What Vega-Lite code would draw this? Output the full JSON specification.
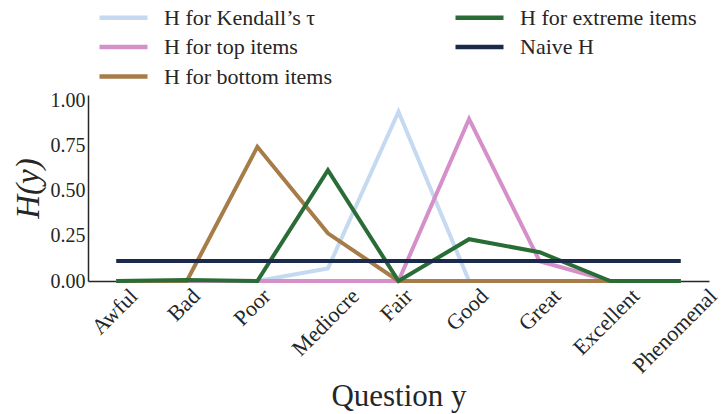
{
  "$schema": "https://vega.github.io/schema/vega-lite/v6.json",
  "width": 621,
  "height": 186,
  "autosize": {"type": "none"},
  "padding": {"left": 88, "top": 95, "right": 13, "bottom": 133},
  "background": "white",
  "config": {
    "view": {"stroke": null},
    "font": "Liberation Serif",
    "axis": {"labelFont": "Liberation Serif", "titleFont": "Liberation Serif"},
    "legend": {"labelFont": "Liberation Serif", "titleFont": "Liberation Serif"}
  },
  "data": {
    "values": [
      {"q": "Awful", "s": "H for Kendall’s τ", "h": 0},
      {"q": "Bad", "s": "H for Kendall’s τ", "h": 0},
      {"q": "Poor", "s": "H for Kendall’s τ", "h": 0},
      {"q": "Mediocre", "s": "H for Kendall’s τ", "h": 0.07},
      {"q": "Fair", "s": "H for Kendall’s τ", "h": 0.94},
      {"q": "Good", "s": "H for Kendall’s τ", "h": 0},
      {"q": "Great", "s": "H for Kendall’s τ", "h": 0},
      {"q": "Excellent", "s": "H for Kendall’s τ", "h": 0},
      {"q": "Phenomenal", "s": "H for Kendall’s τ", "h": 0},
      {"q": "Awful", "s": "H for top items", "h": 0},
      {"q": "Bad", "s": "H for top items", "h": 0},
      {"q": "Poor", "s": "H for top items", "h": 0},
      {"q": "Mediocre", "s": "H for top items", "h": 0},
      {"q": "Fair", "s": "H for top items", "h": 0},
      {"q": "Good", "s": "H for top items", "h": 0.9},
      {"q": "Great", "s": "H for top items", "h": 0.11},
      {"q": "Excellent", "s": "H for top items", "h": 0},
      {"q": "Phenomenal", "s": "H for top items", "h": 0},
      {"q": "Awful", "s": "H for bottom items", "h": 0},
      {"q": "Bad", "s": "H for bottom items", "h": 0},
      {"q": "Poor", "s": "H for bottom items", "h": 0.745},
      {"q": "Mediocre", "s": "H for bottom items", "h": 0.265},
      {"q": "Fair", "s": "H for bottom items", "h": 0},
      {"q": "Good", "s": "H for bottom items", "h": 0},
      {"q": "Great", "s": "H for bottom items", "h": 0},
      {"q": "Excellent", "s": "H for bottom items", "h": 0},
      {"q": "Phenomenal", "s": "H for bottom items", "h": 0},
      {"q": "Awful", "s": "H for extreme items", "h": 0},
      {"q": "Bad", "s": "H for extreme items", "h": 0.005},
      {"q": "Poor", "s": "H for extreme items", "h": 0},
      {"q": "Mediocre", "s": "H for extreme items", "h": 0.615},
      {"q": "Fair", "s": "H for extreme items", "h": 0},
      {"q": "Good", "s": "H for extreme items", "h": 0.232},
      {"q": "Great", "s": "H for extreme items", "h": 0.16},
      {"q": "Excellent", "s": "H for extreme items", "h": 0},
      {"q": "Phenomenal", "s": "H for extreme items", "h": 0},
      {"q": "Awful", "s": "Naive H", "h": 0.111},
      {"q": "Bad", "s": "Naive H", "h": 0.111},
      {"q": "Poor", "s": "Naive H", "h": 0.111},
      {"q": "Mediocre", "s": "Naive H", "h": 0.111},
      {"q": "Fair", "s": "Naive H", "h": 0.111},
      {"q": "Good", "s": "Naive H", "h": 0.111},
      {"q": "Great", "s": "Naive H", "h": 0.111},
      {"q": "Excellent", "s": "Naive H", "h": 0.111},
      {"q": "Phenomenal", "s": "Naive H", "h": 0.111}
    ]
  },
  "mark": {"type": "line", "strokeWidth": 4},
  "encoding": {
    "x": {
      "field": "q",
      "type": "ordinal",
      "sort": null,
      "scale": {"type": "point", "padding": 0.4},
      "axis": {
        "title": "Question y",
        "titleFont": "Liberation Serif",
        "titleFontSize": 31,
        "titleFontWeight": "normal",
        "titleColor": "#262626",
        "titleBaseline": "alphabetic",
        "titleY": 124,
        "labelAngle": -45,
        "labelAlign": "right",
        "labelBaseline": "top",
        "labelPadding": 4,
        "labelFont": "Liberation Serif",
        "labelFontSize": 22,
        "labelColor": "#262626",
        "labelOffset": {
          "condition": [
            {"test": "datum.value === 'Awful'", "value": 10},
            {"test": "datum.value === 'Bad'", "value": 2},
            {"test": "datum.value === 'Poor'", "value": 2},
            {"test": "datum.value === 'Mediocre'", "value": 20},
            {"test": "datum.value === 'Fair'", "value": 3},
            {"test": "datum.value === 'Good'", "value": 8},
            {"test": "datum.value === 'Great'", "value": 10},
            {"test": "datum.value === 'Excellent'", "value": 18},
            {"test": "datum.value === 'Phenomenal'", "value": 25}
          ],
          "value": 8
        },
        "ticks": false,
        "domainColor": "#262626",
        "domainWidth": 1.5,
        "grid": false
      }
    },
    "y": {
      "field": "h",
      "type": "quantitative",
      "scale": {"domain": [0, 1.033], "nice": false, "zero": true},
      "axis": {
        "title": "H(y)",
        "titleFont": "Liberation Serif",
        "titleFontSize": 33,
        "titleFontStyle": "italic",
        "titleFontWeight": "normal",
        "titleColor": "#262626",
        "titlePadding": 5,
        "values": [0, 0.25, 0.5, 0.75, 1],
        "format": ".2f",
        "labelFont": "Liberation Serif",
        "labelFontSize": 20,
        "labelColor": "#262626",
        "labelPadding": 3,
        "ticks": false,
        "domainColor": "#262626",
        "domainWidth": 1.5,
        "grid": false
      }
    },
    "color": {
      "field": "s",
      "type": "nominal",
      "scale": {
        "domain": ["H for Kendall’s τ", "H for top items", "H for bottom items", "H for extreme items", "Naive H"],
        "range": ["#c5d9f1", "#d690c9", "#a67c49", "#2a6c36", "#1b2a4a"]
      },
      "legend": {
        "title": null,
        "orient": "none",
        "legendX": 21,
        "legendY": -92,
        "columns": 2,
        "columnPadding": 113,
        "rowPadding": 3.5,
        "symbolType": "M-2,0L2,0",
        "symbolSize": 576,
        "symbolStrokeWidth": 4.5,
        "labelFontSize": 22,
        "labelFont": "Liberation Serif",
        "labelColor": "#262626",
        "labelOffset": 26,
        "labelLimit": 400
      }
    }
  }
}
